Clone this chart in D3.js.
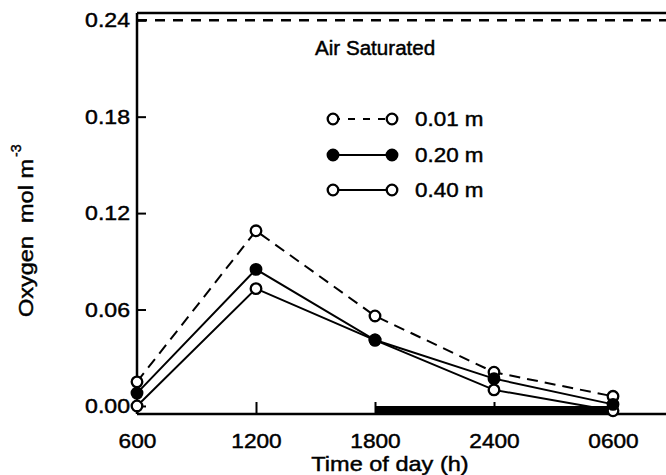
<!DOCTYPE html>
<html>
<head>
<meta charset="utf-8">
<script src="https://cdn.jsdelivr.net/npm/d3@7"></script>
<style>
  body { margin: 0; background: #fff; }
  text { font-family: "Liberation Sans", Arial, Helvetica, sans-serif; fill: #000; stroke: #000; stroke-width: 0.45px; }
</style>
</head>
<body>
<div id="chart"></div>
<script>
// values
const times = [6, 12, 18, 24, 30];            // hours since midnight (0600 next day = 30)
const timeLabels = ["600", "1200", "1800", "2400", "0600"];
const yTicks = [0, 0.06, 0.12, 0.18, 0.24];
const yTickLabels = ["0.00", "0.06", "0.12", "0.18", "0.24"];

const depthNames = ["0.01 m", "0.20 m", "0.40 m"];
const oxygen001 = [0.015, 0.109, 0.056, 0.021, 0.006];
const oxygen020 = [0.008, 0.085, 0.041, 0.017, 0.001];
const oxygen040 = [0.000, 0.073, 0.041, 0.010, -0.003];

const airSaturated = 0.24;
const darkPeriod = [18, 30];

const W = 666, H = 475;
const margin = { top: 13, left: 137, bottom: 61 };

const svg = d3.select("#chart").append("svg")
  .attr("width", W)
  .attr("height", H);

const x = d3.scaleLinear().domain([6, 30]).range([margin.left, 613]);
const y = d3.scaleLinear().domain([-0.005, 0.2445]).range([H - margin.bottom, margin.top]);

const ink = "#000";

// stretch text a bit, the scan is wider than the fonts we have
function stretch(sel, f) {
  sel.each(function () {
    const w = this.getComputedTextLength();
    d3.select(this).attr("textLength", w * f).attr("lengthAdjust", "spacingAndGlyphs");
  });
}

// dark period bar on the time axis
svg.append("rect")
  .attr("x", x(darkPeriod[0]))
  .attr("y", y.range()[0] - 8)
  .attr("width", x(darkPeriod[1]) - x(darkPeriod[0]))
  .attr("height", 9)
  .attr("fill", ink);

// x axis
const xAxis = svg.append("g")
  .attr("transform", "translate(0," + y.range()[0] + ")")
  .call(d3.axisBottom(x).tickValues(times).tickFormat((d, i) => timeLabels[i])
    .tickSizeInner(-12).tickSizeOuter(0).tickPadding(19));
xAxis.select(".domain").remove();
xAxis.selectAll("line").attr("stroke", ink).attr("stroke-width", 2);
xAxis.selectAll("text").attr("font-size", 21).attr("fill", ink);
stretch(xAxis.selectAll("text"), 1.08);

// y axis
const yAxis = svg.append("g")
  .attr("transform", "translate(" + margin.left + ",0)")
  .call(d3.axisLeft(y).tickValues(yTicks).tickFormat((d, i) => yTickLabels[i])
    .tickSizeInner(-9).tickSizeOuter(0).tickPadding(7));
yAxis.select(".domain").remove();
yAxis.selectAll("line").attr("stroke", ink).attr("stroke-width", 2);
yAxis.selectAll("text").attr("font-size", 21).attr("fill", ink);
stretch(yAxis.selectAll("text"), 1.1);

// frame (runs off the right edge like the original)
svg.append("line").attr("x1", margin.left).attr("x2", W).attr("y1", y.range()[1]).attr("y2", y.range()[1])
  .attr("stroke", ink).attr("stroke-width", 2.5);
svg.append("line").attr("x1", margin.left).attr("x2", W).attr("y1", y.range()[0]).attr("y2", y.range()[0])
  .attr("stroke", ink).attr("stroke-width", 2.5);
svg.append("line").attr("x1", margin.left).attr("x2", margin.left).attr("y1", y.range()[1]).attr("y2", y.range()[0])
  .attr("stroke", ink).attr("stroke-width", 2.5);

// air saturated level
svg.append("line")
  .attr("x1", margin.left).attr("x2", W)
  .attr("y1", y(airSaturated)).attr("y2", y(airSaturated))
  .attr("stroke", ink).attr("stroke-width", 2.5)
  .attr("stroke-dasharray", "10,8");

const airLabel = svg.append("text")
  .attr("x", 315).attr("y", 55)
  .attr("font-size", 20)
  .text("Air Saturated");
stretch(airLabel, 1.03);

// series
const series = [
  { name: depthNames[2], values: oxygen040, dash: null, fill: "#fff" },
  { name: depthNames[0], values: oxygen001, dash: "11,7", fill: "#fff" },
  { name: depthNames[1], values: oxygen020, dash: null, fill: ink }
];

const line = d3.line()
  .x((d, i) => x(times[i]))
  .y(d => y(d));

series.forEach(s => {
  svg.append("path")
    .datum(s.values)
    .attr("d", line)
    .attr("fill", "none")
    .attr("stroke", ink)
    .attr("stroke-width", 2)
    .attr("stroke-dasharray", s.dash);
});
series.forEach(s => {
  svg.selectAll(null)
    .data(s.values)
    .join("circle")
    .attr("cx", (d, i) => x(times[i]))
    .attr("cy", d => y(d))
    .attr("r", 5.3)
    .attr("fill", s.fill)
    .attr("stroke", ink)
    .attr("stroke-width", 2.3);
});

// legend
const legendRows = [
  { name: depthNames[0], dash: "7,8", fill: "#fff", y: 119 },
  { name: depthNames[1], dash: null, fill: ink, y: 155 },
  { name: depthNames[2], dash: null, fill: "#fff", y: 190 }
];
const lx0 = 333, lx1 = 392;
legendRows.forEach(r => {
  svg.append("line")
    .attr("x1", lx0).attr("x2", lx1).attr("y1", r.y).attr("y2", r.y)
    .attr("stroke", ink).attr("stroke-width", 2.2)
    .attr("stroke-dasharray", r.dash);
  [lx0, lx1].forEach(cx => {
    svg.append("circle").attr("cx", cx).attr("cy", r.y).attr("r", 5.3)
      .attr("fill", r.fill).attr("stroke", ink).attr("stroke-width", 2.3);
  });
  const t = svg.append("text")
    .attr("x", 415).attr("y", r.y)
    .attr("dy", "0.35em")
    .attr("font-size", 20)
    .text(r.name);
  stretch(t, 1.12);
});

// axis titles
const xTitle = svg.append("text")
  .attr("x", 390).attr("y", 471)
  .attr("text-anchor", "middle")
  .attr("font-size", 21)
  .text("Time of day (h)");
stretch(xTitle, 1.12);

const yTitle = svg.append("text")
  .attr("transform", "translate(33,317) rotate(-90)")
  .attr("font-size", 21)
  .text("Oxygen\u00a0\u00a0mol\u00a0m");
yTitle.attr("textLength", 158).attr("lengthAdjust", "spacingAndGlyphs");
svg.append("text")
  .attr("transform", "translate(21,157) rotate(-90)")
  .attr("font-size", 14)
  .text("-3");
</script>
</body>
</html>
